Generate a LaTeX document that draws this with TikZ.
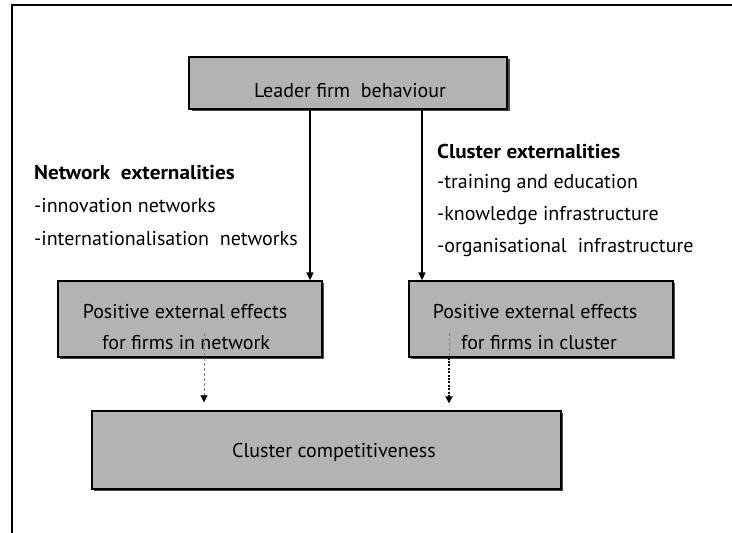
\documentclass[tikz,border=0pt]{standalone}
\usepackage{fontspec}
\setmainfont{PT Sans}
\usetikzlibrary{arrows.meta}
\definecolor{boxgray}{RGB}{179,179,179}
\begin{document}
\begin{tikzpicture}[x=1pt,y=-1pt,
  box/.style={draw=black,line width=1.3pt,fill=boxgray,inner sep=0pt},
  txt/.style={inner sep=0pt,font=\fontsize{20}{24}\selectfont},
  lefttxt/.style={txt,anchor=west},
  arr/.style={line width=1.3pt,-{Triangle[width=7pt,length=8pt]}},
  thindash/.style={gray,line width=0.7pt,dash pattern=on 3pt off 2pt},
  thickdot/.style={black,line width=2.6pt,dash pattern=on 2pt off 1.4pt},
  dashtip/.style={-{Triangle[width=7pt,length=7pt,color=black,fill=black]}}
]
\useasboundingbox (0,0) rectangle (732,533);
\fill[white] (0,0) rectangle (732,533);
% frame
\draw[line width=1.6pt] (12,533) -- (12,5) -- (732,5);

% boxes (with thin shadow)
\fill[black!70] (191.5,58.5) rectangle (509.5,110.5);
\node[box,minimum width=318pt,minimum height=52pt] (leader) at (348,83) {};
\fill[black!70] (59.5,282.5) rectangle (323.5,358.5);
\node[box,minimum width=264pt,minimum height=76pt] (netbox) at (190,319) {};
\fill[black!70] (410.5,282.5) rectangle (674.5,358.5);
\node[box,minimum width=264pt,minimum height=76pt] (clbox) at (541,319) {};
\fill[black!70] (93.5,412.5) rectangle (562.5,490.5);
\node[box,minimum width=469pt,minimum height=78pt] (comp) at (326.5,450) {};

% box texts
\node[txt] (leadertxt) at (350,91) {Leader firm\ \ behaviour};
\node[txt] (net1) at (185,312) {Positive external effects};
\node[txt] (net2) at (186,343) {for firms in network};
\node[txt] (cl1) at (535,312) {Positive external effects};
\node[txt] (cl2) at (539,343) {for firms in cluster};
\node[txt] (comptxt) at (334,452) {Cluster competitiveness};

% externalities
\node[lefttxt] (nethead) at (34,173) {\scalebox{1.06}[1]{\bfseries Network\ \ externalities}};
\node[lefttxt] (netl1) at (34,206) {-innovation networks};
\node[lefttxt] (netl2) at (34,239) {-internationalisation\ \ networks};
\node[lefttxt] (clhead) at (437,151) {\scalebox{1.06}[1]{\bfseries Cluster externalities}};
\node[lefttxt] (cll1) at (437,184) {-training and education};
\node[lefttxt] (cll2) at (437,216) {-knowledge infrastructure};
\node[lefttxt] (cll3) at (437,248) {-organisational\hspace{11pt}infrastructure};

% solid arrows
\draw[arr] (310,0 |- leader.south) -- (310,0 |- netbox.north);
\draw[arr] (422,0 |- leader.south) -- (422,0 |- clbox.north);

% dashed / dotted arrows
\coordinate (ds1) at (204,333);
\draw[thindash,dashtip,shorten >=8pt] (ds1) -- (204,0 |- comp.north);
\coordinate (ds2) at (449,333);
\draw[thindash] (ds2) -- (449,0 |- clbox.south);
\draw[thickdot,dashtip,shorten >=7pt] (449,0 |- clbox.south) -- (449,0 |- comp.north);
\end{tikzpicture}
\end{document}
